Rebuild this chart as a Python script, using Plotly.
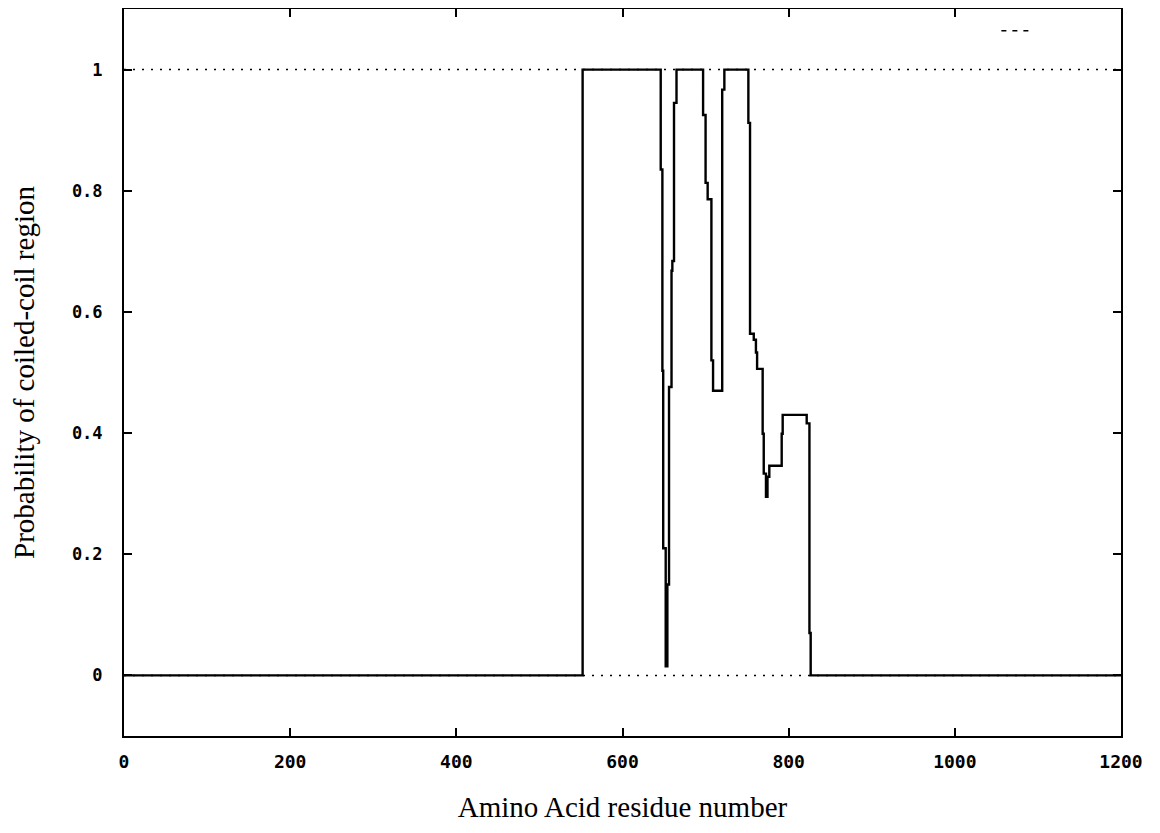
import plotly.graph_objects as go

# Step profile: residue number where probability changes, and new probability value
residue = [0, 552, 646, 648, 649, 652, 654, 656, 659, 660, 662, 665,
           697, 700, 702.5, 707, 709, 720, 722.6, 751.5, 753.5, 758,
           760.6, 762, 768.7, 770, 772.7, 774.5, 776.7, 791.6, 792.8,
           821.7, 825, 826.5, 1200]
probability = [0, 1.0, 0.835, 0.503, 0.21, 0.015, 0.15, 0.476, 0.668, 0.684, 0.945, 1.0,
               0.925, 0.813, 0.786, 0.52, 0.47, 0.967, 1.0, 0.912, 0.564, 0.554,
               0.533, 0.506, 0.399, 0.333, 0.295, 0.328, 0.346, 0.399, 0.43,
               0.416, 0.07, 0.0, 0.0]

threshold_x = [0, 1200]
upper_level = [1, 1]
lower_level = [0, 0]

x_ticks = [0, 200, 400, 600, 800, 1000, 1200]
y_ticks = [0, 0.2, 0.4, 0.6, 0.8, 1]
y_tick_text = ["0", "0.2", "0.4", "0.6", "0.8", "1"]

fig = go.Figure()
fig.add_trace(go.Scatter(x=threshold_x, y=upper_level, mode="lines",
                         line=dict(color="black", width=1.5, dash="2px,7px"),
                         showlegend=False, hoverinfo="skip"))
fig.add_trace(go.Scatter(x=threshold_x, y=lower_level, mode="lines",
                         line=dict(color="black", width=1.5, dash="2px,7px"),
                         showlegend=False, hoverinfo="skip"))
fig.add_trace(go.Scatter(x=residue, y=probability, mode="lines",
                         line=dict(color="black", width=2.4, shape="hv"),
                         showlegend=False))
fig.add_trace(go.Scatter(x=[None], y=[None], mode="lines", name=" ",
                         line=dict(color="black", width=1.5, dash="5px,6px"),
                         showlegend=True))

axis_common = dict(showline=True, linecolor="black", linewidth=2, mirror="ticks",
                   ticks="inside", ticklen=8, tickwidth=2, tickcolor="black",
                   showgrid=False, zeroline=False)

fig.update_xaxes(range=[0, 1200], tickvals=x_ticks, ticklabelstandoff=8,
                 tickfont=dict(family="DejaVu Sans Mono", size=18, color="black",
                               weight="bold"),
                 title=dict(text="Amino Acid residue number",
                            font=dict(family="Liberation Serif", size=29, color="black"),
                            standoff=26),
                 **axis_common)
fig.update_yaxes(range=[-0.1, 1.1], tickvals=y_ticks, ticktext=y_tick_text,
                 ticklabelstandoff=16,
                 tickfont=dict(family="DejaVu Sans Mono", size=17, color="black",
                               weight="bold"),
                 title=dict(text="Probability of coiled-coil region",
                            font=dict(family="Liberation Serif", size=29, color="black"),
                            standoff=32),
                 **axis_common)

fig.update_layout(width=1160, height=833,
                  margin=dict(l=116, r=47, t=1, b=105, autoexpand=False),
                  plot_bgcolor="white", paper_bgcolor="white",
                  legend=dict(x=0.875, y=0.97, xanchor="left", yanchor="middle",
                              bgcolor="rgba(0,0,0,0)",
                              font=dict(size=10)))

fig.write_html("out.html")
